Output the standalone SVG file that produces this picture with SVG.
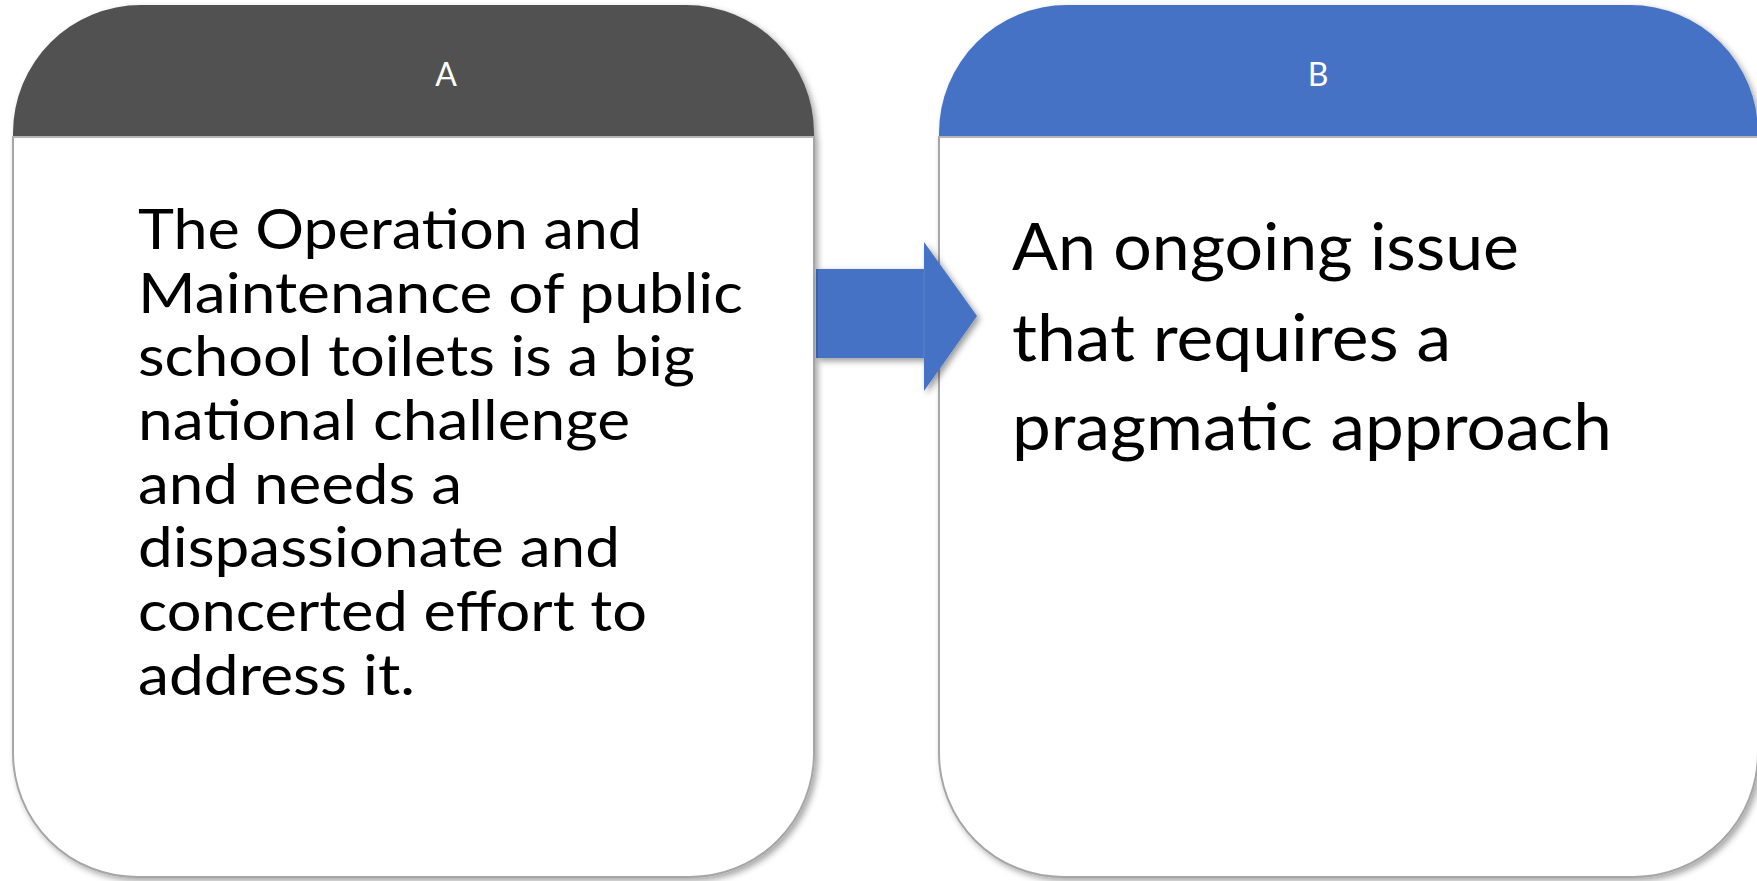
<svg xmlns="http://www.w3.org/2000/svg" width="1757" height="881" viewBox="0 0 1757 881">
<defs>
<filter id="sh" x="-10%" y="-10%" width="120%" height="120%">
<feDropShadow dx="3" dy="3" stdDeviation="3" flood-color="#000" flood-opacity="0.35"/>
</filter>
<filter id="ash" x="-20%" y="-20%" width="140%" height="140%">
<feDropShadow dx="3" dy="3" stdDeviation="3" flood-color="#000" flood-opacity="0.4"/>
</filter>
<style>
.body{fill:#ffffff;stroke:#a6a6a6;stroke-width:2}
.hdrA{fill:#515151}
.hdrB{fill:#4472c4}
.hlabel{font-family:Lato,"Open Sans",sans-serif;font-size:32px;fill:#ffffff;text-anchor:middle}
.txtA{font-family:Lato,"Open Sans",sans-serif;font-size:57px;fill:#000000}
.txtB{font-family:Lato,"Open Sans",sans-serif;font-size:66px;fill:#000000}
.arrow{fill:#4472c4}
</style>
</defs>
<rect width="1757" height="881" fill="#ffffff"/>
<g id="nodeA">
<g filter="url(#sh)">
<path class="body" d="M13,137 L814,137 L814,753 A124,124 0 0 1 690,877 L137,877 A124,124 0 0 1 13,753 Z"/>
<path class="hdrA" d="M13,137 L13,133 A128,128 0 0 1 141,5 L686,5 A128,128 0 0 1 814,133 L814,137 Z"/>
</g>
<line x1="13" y1="137" x2="814" y2="137" stroke="#b5b5b5" stroke-width="2"/>
<text class="hlabel" x="446" y="86">A</text>
<text class="txtA" x="138" y="249" textLength="504" lengthAdjust="spacingAndGlyphs">The Operation and</text>
<text class="txtA" x="138" y="313" textLength="605" lengthAdjust="spacingAndGlyphs">Maintenance of public</text>
<text class="txtA" x="138" y="376" textLength="557" lengthAdjust="spacingAndGlyphs">school toilets is a big</text>
<text class="txtA" x="138" y="440" textLength="492" lengthAdjust="spacingAndGlyphs">national challenge</text>
<text class="txtA" x="138" y="504" textLength="324" lengthAdjust="spacingAndGlyphs">and needs a</text>
<text class="txtA" x="138" y="567" textLength="482" lengthAdjust="spacingAndGlyphs">dispassionate and</text>
<text class="txtA" x="138" y="631" textLength="509" lengthAdjust="spacingAndGlyphs">concerted effort to</text>
<text class="txtA" x="138" y="695" textLength="277" lengthAdjust="spacingAndGlyphs">address it.</text>
</g>
<g id="nodeB">
<g filter="url(#sh)">
<path class="body" d="M939,137 L1758,137 L1758,753 A124,124 0 0 1 1634,877 L1063,877 A124,124 0 0 1 939,753 Z"/>
<path class="hdrB" d="M939,137 L939,133 A128,128 0 0 1 1067,5 L1630,5 A128,128 0 0 1 1758,133 L1758,137 Z"/>
</g>
<line x1="939" y1="137" x2="1758" y2="137" stroke="#b5b5b5" stroke-width="2"/>
<text class="hlabel" x="1318" y="86">B</text>
<text class="txtB" x="1012" y="270" textLength="507" lengthAdjust="spacingAndGlyphs">An ongoing issue</text>
<text class="txtB" x="1012" y="361" textLength="439" lengthAdjust="spacingAndGlyphs">that requires a</text>
<text class="txtB" x="1012" y="450" textLength="600" lengthAdjust="spacingAndGlyphs">pragmatic approach</text>
</g>
<g id="connectors">
<path class="arrow" filter="url(#ash)" d="M816,269 L924,269 L924,242 L977,316 L924,391 L924,358 L816,358 Z"/>
<line x1="817" y1="269" x2="817" y2="358" stroke="#3a5fa6" stroke-width="2"/>
<line x1="924" y1="269" x2="924" y2="358" stroke="#5a82c8" stroke-width="1"/>
</g>
</svg>
